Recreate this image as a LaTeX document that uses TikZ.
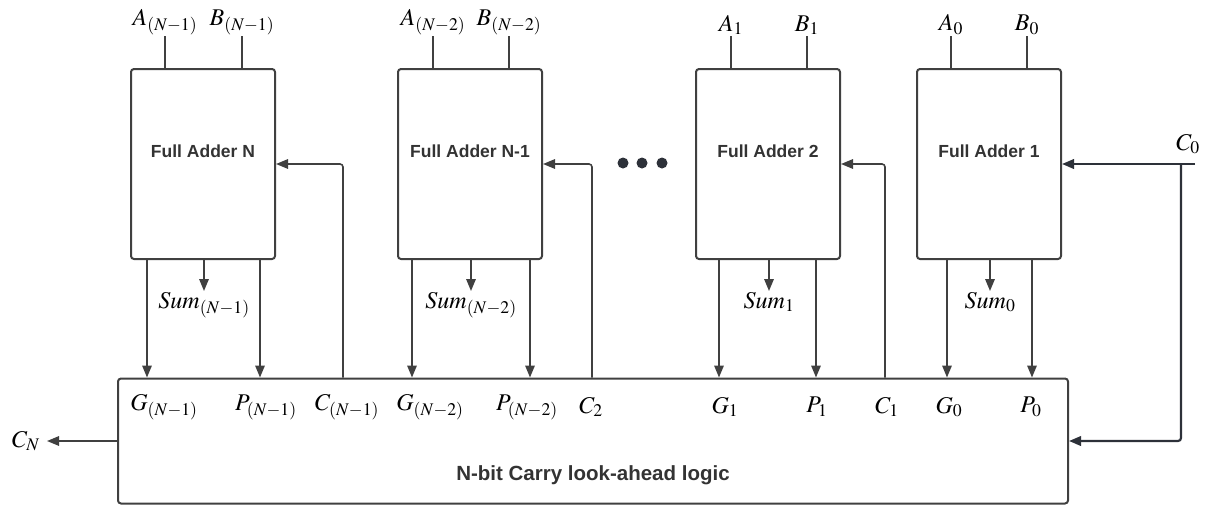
\documentclass[tikz,border=0pt]{standalone}
\usepackage{mathptmx}
\usepackage[no-math]{fontspec}
\setsansfont{Liberation Sans}
\usepackage{tikz}
\usetikzlibrary{arrows.meta,positioning,calc}
\definecolor{wirec}{RGB}{64,64,64}
\definecolor{inkc}{RGB}{51,51,51}
\definecolor{carryc}{RGB}{45,49,57}

\tikzset{
  fabox/.style={draw=wirec,line width=2pt,rounded corners=3pt,
                minimum width=144pt,minimum height=190pt,inner sep=0pt},
  fatext/.style={font=\sffamily\bfseries\fontsize{17.5}{20}\selectfont,text=inkc},
  clatext/.style={font=\sffamily\bfseries\fontsize{20.5}{24}\selectfont,text=inkc},
  sig/.style={font=\fontsize{24}{28}\selectfont,text=black,inner sep=1pt},
  wire/.style={draw=wirec,line width=1.6pt},
  arr/.style={wire,-{Triangle[length=12pt,width=9.5pt]}},
}

\begin{document}
\begin{tikzpicture}[x=1pt,y=-1pt]
\useasboundingbox (0,0) rectangle (1211,504);

% full adders and the look-ahead block
\node[fabox,label={[fatext,yshift=12.5pt]center:Full Adder N}]   (faN)   at (203,164) {};
\node[fabox,label={[fatext,yshift=12.5pt]center:Full Adder N-1}] (faNm)  at (470,164) {};
\node[fabox,label={[fatext,yshift=12.5pt]center:Full Adder 2}]   (faTwo) at (768,164) {};
\node[fabox,label={[fatext,yshift=12.5pt]center:Full Adder 1}]   (faOne) at (989,164) {};
\node[fabox,minimum width=950pt,minimum height=125pt,
      label={[clatext,yshift=-34pt]center:N-bit Carry look-ahead logic}] (cla) at (593,441) {};

% dots between the adders
\foreach \dx in {623,642,662}
  \fill[carryc] (\dx,163) circle (5.5);

% inputs
\node[sig,anchor=south] (aN)   at (165,36) {$A_{(N-1)}$};
\node[sig,anchor=south] (bN)   at (242,36) {$B_{(N-1)}$};
\node[sig,anchor=south] (aNm)  at (433,36) {$A_{(N-2)}$};
\node[sig,anchor=south] (bNm)  at (509,36) {$B_{(N-2)}$};
\node[sig,anchor=south] (aTwo) at (731,36) {$A_1$};
\node[sig,anchor=south] (bTwo) at (807,36) {$B_1$};
\node[sig,anchor=south] (aOne) at (951,36) {$A_0$};
\node[sig,anchor=south] (bOne) at (1027,36) {$B_0$};
\foreach \pin/\blk in {aN/faN,bN/faN,aNm/faNm,bNm/faNm,aTwo/faTwo,bTwo/faTwo,aOne/faOne,bOne/faOne}
  \draw[wire] (\pin.south) -- (\pin.south |- \blk.north);

% sum outputs
\node[sig,anchor=north] (sumN)   at (204,291) {$Sum_{(N-1)}$};
\node[sig,anchor=north] (sumNm)  at (471,291) {$Sum_{(N-2)}$};
\node[sig,anchor=north] (sumTwo) at (769,291) {$Sum_1$};
\node[sig,anchor=north] (sumOne) at (990,291) {$Sum_0$};
\foreach \pin/\blk in {sumN/faN,sumNm/faNm,sumTwo/faTwo,sumOne/faOne}
  \draw[arr] (\pin.north |- \blk.south) -- (\pin.north);

% generate / propagate into the look-ahead block
\coordinate (gN)   at ($(faN.south west)+(17,0)$);
\coordinate (pN)   at ($(faN.south west)+(130,0)$);
\coordinate (gNm)  at ($(faNm.south west)+(15,0)$);
\coordinate (pNm)  at ($(faNm.south west)+(133,0)$);
\coordinate (gTwo) at ($(faTwo.south west)+(24,0)$);
\coordinate (pTwo) at ($(faTwo.south west)+(121,0)$);
\coordinate (gOne) at ($(faOne.south west)+(31,0)$);
\coordinate (pOne) at ($(faOne.south west)+(116,0)$);
\foreach \pin in {gN,pN,gNm,pNm,gTwo,pTwo,gOne,pOne}
  \draw[arr] (\pin) -- (\pin |- cla.north);

% carries back to the adders
\coordinate (cNm)  at (343,0);
\coordinate (cTwo) at (592,0);
\coordinate (cOne) at (885,0);
\draw[arr,rounded corners=3pt] (cNm |- cla.north)  |- (faN.east);
\draw[arr,rounded corners=3pt] (cTwo |- cla.north) |- (faNm.east);
\draw[arr,rounded corners=3pt] (cOne |- cla.north) |- (faTwo.east);

% carry in
\node[sig] (cZero) at (1188,144) {$C_0$};
\coordinate (cZeroIn)  at (1195,164);
\coordinate (cZeroTap) at (1181,164);
\draw[arr,draw=carryc,line width=2.2pt] (cZeroIn) -- (faOne.east);
\draw[arr,draw=carryc,line width=2.2pt,rounded corners=3pt] (cZeroTap) |- (cla.east);

% carry out
\node[sig] (cOut) at (26,441) {$C_N$};
\draw[arr] (cla.west) -- ([xshift=6pt]cOut.east);

% labels inside the look-ahead block
\node[sig] (lgN)   at (164,407)  {$G_{(N-1)}$};
\node[sig] (lpN)   at (266,407)  {$P_{(N-1)}$};
\node[sig] (lcN)   at (347,407)  {$C_{(N-1)}$};
\node[sig] (lgNm)  at (430,407)  {$G_{(N-2)}$};
\node[sig] (lpNm)  at (527,407)  {$P_{(N-2)}$};
\node[sig] (lcTwo) at (591,407)  {$C_2$};
\node[sig] (lgTwo) at (725,407)  {$G_1$};
\node[sig] (lpTwo) at (817,407)  {$P_1$};
\node[sig] (lcOne) at (887,407)  {$C_1$};
\node[sig] (lgOne) at (949,407)  {$G_0$};
\node[sig] (lpOne) at (1031,407) {$P_0$};
\end{tikzpicture}
\end{document}
